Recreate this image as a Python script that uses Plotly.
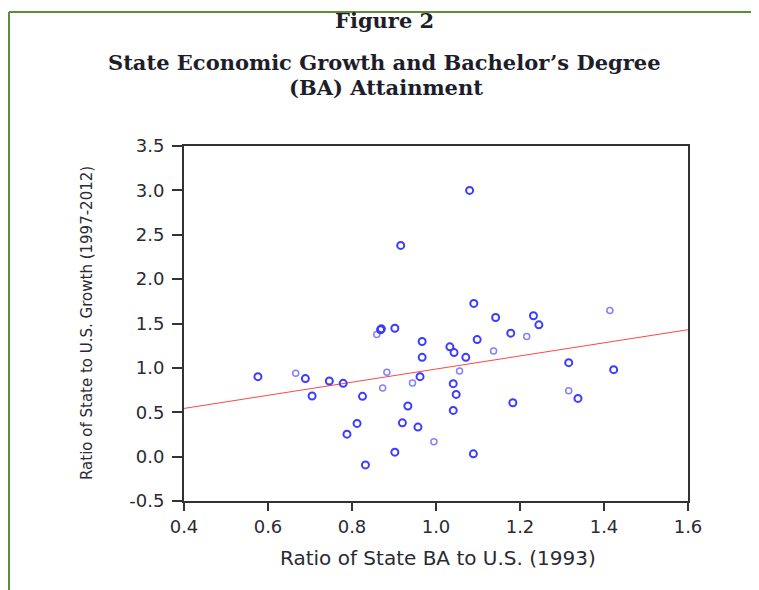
import plotly.graph_objects as go

# Ratio of state BA attainment to U.S. (1993) vs ratio of state to U.S. growth (1997-2012)
ba_ratio = [0.576, 0.689, 0.705, 0.746, 0.779, 0.788, 0.812, 0.825, 0.832, 0.868,
            0.870, 0.902, 0.902, 0.916, 0.920, 0.933, 0.957, 0.962, 0.967, 0.967,
            1.033, 1.041, 1.041, 1.043, 1.048, 1.071, 1.080, 1.089, 1.090, 1.098,
            1.142, 1.178, 1.183, 1.232, 1.245, 1.316, 1.338, 1.423]
growth_ratio = [0.901, 0.879, 0.683, 0.852, 0.826, 0.253, 0.374, 0.679, -0.093, 1.429,
                1.440, 1.447, 0.050, 2.380, 0.381, 0.570, 0.333, 0.901, 1.297, 1.119,
                1.237, 0.822, 0.521, 1.172, 0.701, 1.119, 3.000, 0.031, 1.726, 1.319,
                1.568, 1.391, 0.607, 1.587, 1.485, 1.059, 0.656, 0.980]

# fainter points in the scan
ba_ratio_light = [0.666, 0.859, 0.873, 0.883, 0.944, 0.995, 1.056, 1.137, 1.216, 1.316, 1.414]
growth_ratio_light = [0.939, 1.376, 0.773, 0.950, 0.830, 0.169, 0.965, 1.191, 1.353, 0.743, 1.647]

# fitted regression line (end points)
fit_x = [0.4, 1.6]
fit_y = [0.543, 1.430]

x_ticks = [0.4, 0.6, 0.8, 1.0, 1.2, 1.4, 1.6]
y_ticks = [-0.5, 0.0, 0.5, 1.0, 1.5, 2.0, 2.5, 3.0, 3.5]

SANS = 'DejaVu Sans'
SERIF = 'DejaVu Serif'
TEXT = '#2a2a33'

fig = go.Figure()

fig.add_trace(go.Scatter(
    x=fit_x, y=fit_y, mode='lines',
    line=dict(color='rgb(255,70,70)', width=1),
    hoverinfo='skip', showlegend=False
))

fig.add_trace(go.Scatter(
    x=ba_ratio_light, y=growth_ratio_light, mode='markers',
    marker=dict(symbol='circle-open', size=6, color='rgb(130,130,255)',
                line=dict(width=1.5)),
    showlegend=False
))

fig.add_trace(go.Scatter(
    x=ba_ratio, y=growth_ratio, mode='markers',
    marker=dict(symbol='circle-open', size=7, color='rgb(60,60,255)',
                line=dict(width=2)),
    showlegend=False
))

axis_common = dict(
    showgrid=False, zeroline=False,
    showline=True, linecolor='#333333', linewidth=2, mirror=True,
    ticks='outside', tickcolor='#333333', tickwidth=1.5,
    tickfont=dict(family=SANS, size=18, color=TEXT),
)

fig.update_xaxes(range=[0.4, 1.6], tickvals=x_ticks, ticktext=[f'{v:.1f}' for v in x_ticks],
                 ticklen=8, **axis_common)
fig.update_yaxes(range=[-0.5, 3.5], tickvals=y_ticks, ticktext=[f'{v:.1f}' for v in y_ticks],
                 ticklen=10, ticklabelstandoff=4, **axis_common)

# pixel helpers for text placed around the plot area (plot spans x 184-688, y 146-501)
def px_x(p):
    return (p - 184) / 504.0

def px_y(p):
    return (501 - p) / 355.0

annotations = [
    dict(text='Figure 2', x=px_x(384), y=px_y(20), size=21),
    dict(text='State Economic Growth and Bachelor\u2019s Degree', x=px_x(384), y=px_y(62), size=21),
    dict(text='(BA) Attainment', x=px_x(386), y=px_y(87), size=21),
]
for a in annotations:
    fig.add_annotation(text='<b>' + a['text'] + '</b>', x=a['x'], y=a['y'],
                       xref='paper', yref='paper', showarrow=False,
                       xanchor='center', yanchor='middle',
                       font=dict(family=SERIF, size=a['size'], color='#1e1e2a'))

fig.add_annotation(text='Ratio of State BA to U.S. (1993)', x=px_x(438), y=px_y(558),
                   xref='paper', yref='paper', showarrow=False,
                   xanchor='center', yanchor='middle',
                   font=dict(family=SANS, size=20, color=TEXT))
fig.add_annotation(text='Ratio of State to U.S. Growth (1997-2012)', x=px_x(87), y=px_y(323),
                   xref='paper', yref='paper', showarrow=False, textangle=-90,
                   xanchor='center', yanchor='middle',
                   font=dict(family=SANS, size=15, color=TEXT))

# green page frame (top and left edges)
green = 'rgb(95,140,55)'
fig.add_shape(type='line', xref='paper', yref='paper',
              x0=px_x(9), x1=px_x(770), y0=px_y(12), y1=px_y(12),
              line=dict(color=green, width=2))
fig.add_shape(type='line', xref='paper', yref='paper',
              x0=px_x(9), x1=px_x(9), y0=px_y(12), y1=px_y(600),
              line=dict(color=green, width=2))

# the page body adds an 8px offset, so margins are shifted to keep the plot at 184-688 / 146-501
fig.update_layout(
    width=759, height=590,
    margin=dict(l=176, r=79, t=138, b=97),
    paper_bgcolor='white', plot_bgcolor='white',
    showlegend=False,
)

fig.write_html("out.html")
